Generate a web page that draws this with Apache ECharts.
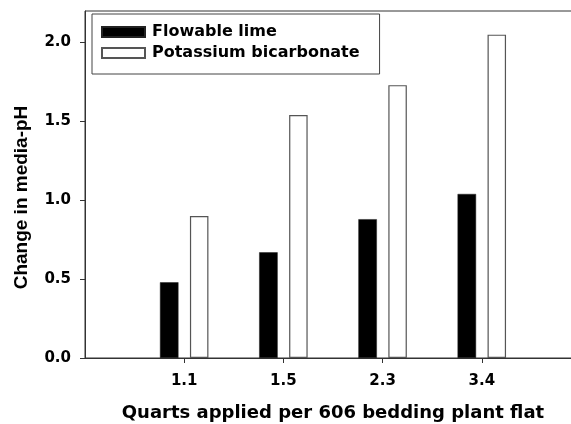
<!DOCTYPE html>
<html>
<head>
<meta charset="utf-8">
<script src="https://cdn.jsdelivr.net/npm/echarts@6/dist/echarts.min.js"></script>
<style>
html,body{margin:0;padding:0;background:#fff;}
#c{width:571px;height:424px;}
</style>
</head>
<body>
<div id="c"></div>
<script>
const categories = ['1.1', '1.5', '2.3', '3.4'];
const flowableLime = [0.48, 0.67, 0.88, 1.04];
const potassiumBicarbonate = [0.90, 1.54, 1.73, 2.05];
const yTicks = [0, 0.5, 1.0, 1.5, 2.0];
const xPositions = categories.map((c, i) => i + 1);

const WIDE = '"DejaVu Sans", Arial, sans-serif';
const NARROW = 'Arial, "Liberation Sans", sans-serif';
const chart = echarts.init(document.getElementById('c'), null, {renderer: 'canvas'});

chart.setOption({
  animation: false,
  backgroundColor: '#fff',
  textStyle: {fontFamily: WIDE},
  grid: {
    left: 85, right: -10, top: 11, bottom: 66,
    outerBoundsMode: 'none',
    containLabel: false,
    show: true, borderColor: '#333', borderWidth: 1, backgroundColor: 'transparent'
  },
  legend: {
    orient: 'vertical',
    left: 92, top: 14,
    data: ['Flowable lime', 'Potassium bicarbonate'],
    icon: 'rect',
    itemWidth: 43, itemHeight: 10, itemGap: 5,
    padding: [10, 20, 13, 9],
    borderColor: '#444', borderWidth: 1,
    backgroundColor: '#fff',
    textStyle: {fontFamily: WIDE, fontWeight: 'bold', fontSize: 16, color: '#000', lineHeight: 16, padding: [0, 0, 0, 2]}
  },
  xAxis: {
    type: 'value',
    min: 0, max: 5,
    name: 'Quarts applied per 606 bedding plant flat',
    nameLocation: 'middle',
    nameGap: 46,
    nameTextStyle: {fontFamily: WIDE, fontWeight: 'bold', fontSize: 18, color: '#000'},
    axisLine: {show: true, onZero: false, lineStyle: {color: '#333', width: 1}},
    axisTick: {show: true, inside: false, length: 5, customValues: xPositions, lineStyle: {color: '#333'}},
    axisLabel: {
      show: true, margin: 16, customValues: xPositions,
      fontFamily: WIDE, fontWeight: 'bold', fontSize: 15, color: '#000',
      formatter: v => categories[Math.round(v) - 1] || ''
    },
    splitLine: {show: false}
  },
  yAxis: {
    type: 'value',
    min: 0, max: 2.2,
    name: 'Change in media-pH',
    nameLocation: 'middle',
    nameGap: 54,
    nameTextStyle: {fontFamily: NARROW, fontWeight: 'bold', fontSize: 19, color: '#000', padding: [0, 26, 0, 0]},
    axisLine: {show: true, lineStyle: {color: '#333', width: 1}},
    axisTick: {show: true, inside: false, length: 5, customValues: yTicks, lineStyle: {color: '#333'}},
    axisLabel: {
      show: true, margin: 14, customValues: yTicks,
      fontFamily: WIDE, fontWeight: 'bold', fontSize: 15, color: '#000',
      formatter: v => Number(v).toFixed(1)
    },
    splitLine: {show: false}
  },
  series: [
    {
      name: 'Flowable lime',
      type: 'bar',
      data: xPositions.map((x, i) => [x, flowableLime[i]]),
      barWidth: 18.5,
      barGap: '62%',
      itemStyle: {color: '#000', borderColor: '#222', borderWidth: 0.5}
    },
    {
      name: 'Potassium bicarbonate',
      type: 'bar',
      data: xPositions.map((x, i) => [x, potassiumBicarbonate[i]]),
      barWidth: 18.5,
      barGap: '62%',
      itemStyle: {color: '#fff', borderColor: '#555', borderWidth: 1.2}
    }
  ]
});
</script>
</body>
</html>
